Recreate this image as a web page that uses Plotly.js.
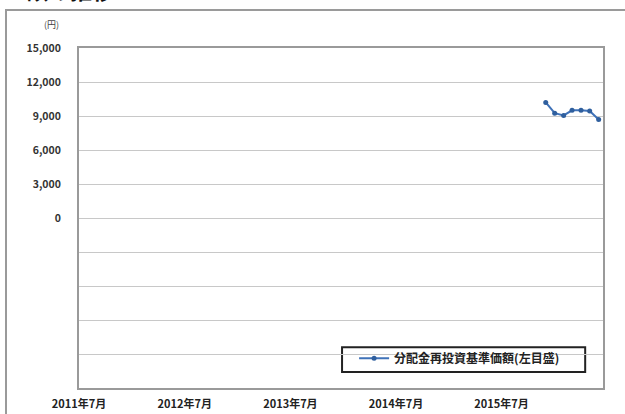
<!DOCTYPE html>
<html>
<head>
<meta charset="utf-8">
<script src="https://cdn.plot.ly/plotly-3.0.1.min.js"></script>
<style>html,body{margin:0;padding:0;background:#fff;}#chart{width:625px;height:414px;}</style>
</head>
<body>
<div id="chart"></div>
<script>
// Data
const months = ['2015-12-01','2016-01-01','2016-02-01','2016-03-01','2016-04-01','2016-05-01','2016-06-01'];
const navValues = [10200, 9250, 9050, 9500, 9500, 9450, 8700];
const seriesName = '分配金再投資基準価額(左目盛)';
const xTickVals = ['2011-07-01','2012-07-01','2013-07-01','2014-07-01','2015-07-01'];
const xTickText = ['2011年7月','2012年7月','2013年7月','2014年7月','2015年7月'];
const yTickVals = [-15000,-12000,-9000,-6000,-3000,0,3000,6000,9000,12000,15000];
const yTickText = ['','','','','','0','3,000','6,000','9,000','12,000','15,000'];
const titleText = '額の推移';
const unitText = '(円)';

const FONT = '"Noto Sans CJK JP", "Liberation Sans", sans-serif';

const trace = {
  x: months, y: navValues, type: 'scatter', mode: 'lines+markers', name: seriesName,
  line: {color: '#3f72b8', width: 2},
  marker: {color: '#2f5f9e', size: 5},
  showlegend: true
};

const layout = {
  width: 625, height: 414,
  margin: {l: 79, r: 22, t: 48, b: 26},
  paper_bgcolor: '#fff', plot_bgcolor: '#fff',
  font: {family: FONT, color: '#222'},
  xaxis: {
    type: 'date', range: ['2011-07-01', '2016-06-16'],
    tickmode: 'array', tickvals: xTickVals, ticktext: xTickText,
    showgrid: false, zeroline: false, ticks: '',
    showline: true, mirror: true, linecolor: '#9a9a9a', linewidth: 2,
    tickfont: {family: FONT, size: 11, color: '#222', weight: 'bold'},
    ticklabelstandoff: 5
  },
  yaxis: {
    range: [-15000, 15000],
    tickmode: 'array', tickvals: yTickVals, ticktext: yTickText,
    showgrid: true, gridcolor: '#c8c8c8', gridwidth: 1, zeroline: false, ticks: '',
    showline: true, mirror: true, linecolor: '#9a9a9a', linewidth: 2,
    tickfont: {family: FONT, size: 10.5, color: '#333', weight: 'bold'},
    ticklabelstandoff: 14
  },
  legend: {
    x: 0.525, y: 0.13, xanchor: 'left', yanchor: 'top',
    bgcolor: 'rgba(0,0,0,0)', borderwidth: 0,
    font: {family: FONT, size: 12, color: '#222', weight: 'bold'},
    itemwidth: 30
  },
  shapes: [
    {type: 'rect', xref: 'paper', yref: 'paper', x0: -0.1393, x1: 1.2, y0: -0.3, y1: 1.1118,
     line: {color: '#9a9a9a', width: 2}, fillcolor: 'rgba(0,0,0,0)', layer: 'below'},
    {type: 'rect', xref: 'paper', yref: 'paper', x0: 0.502, x1: 0.966, y0: 0.047, y1: 0.12,
     line: {color: '#222', width: 2}, fillcolor: '#fff', layer: 'below'}
  ],
  annotations: [
    {text: titleText, xref: 'paper', yref: 'paper', x: -0.105, y: 1.12, xanchor: 'left', yanchor: 'bottom',
     showarrow: false, font: {family: FONT, size: 22, color: '#111', weight: 'bold'}},
    {text: unitText, xref: 'paper', yref: 'paper', x: -0.035, y: 1.07, xanchor: 'right', yanchor: 'middle',
     showarrow: false, font: {family: FONT, size: 9, color: '#444'}}
  ]
};

Plotly.newPlot('chart', [trace], layout, {displayModeBar: false, staticPlot: true});
</script>
</body>
</html>
